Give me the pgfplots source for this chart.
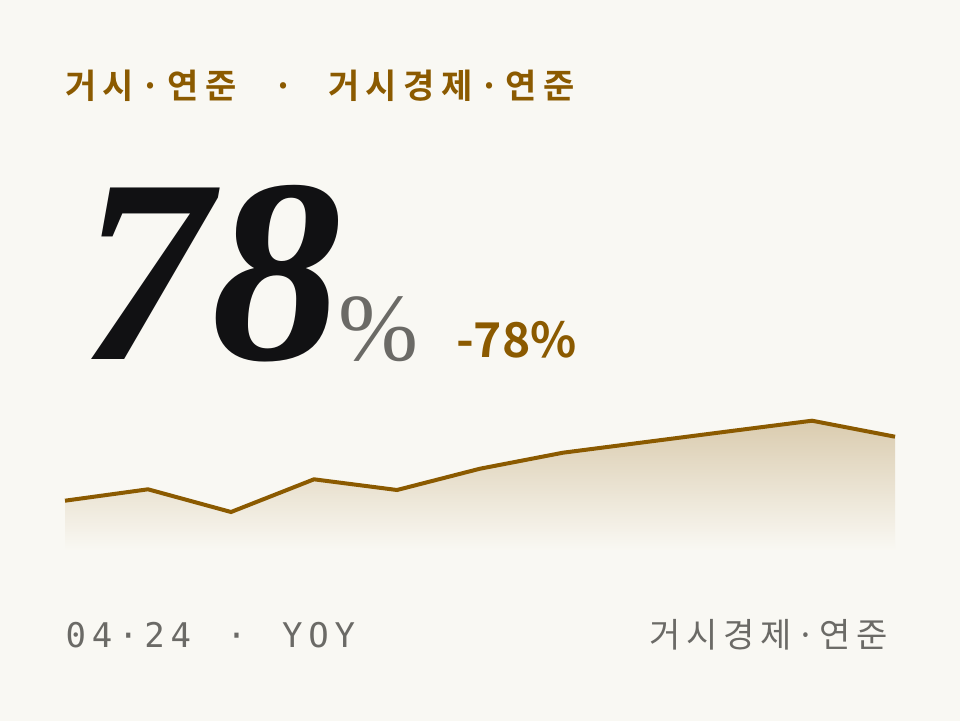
\documentclass[border=0pt]{standalone}
\usepackage{fontspec}
\usepackage{pgfplots}
\pgfplotsset{compat=1.18}
\setmainfont{Liberation Serif}
\newfontfamily\krb{Noto Sans CJK KR Bold}[LetterSpace=19]
\newfontfamily\krr{Noto Sans CJK KR}[LetterSpace=17]
\newfontfamily\krnum{Noto Sans CJK KR Bold}
\newfontfamily\mono{DejaVu Sans Mono}[LetterSpace=17]
\newfontfamily\headfont{Liberation Serif}
\definecolor{bg}{HTML}{F9F8F3}
\definecolor{brn}{HTML}{8B5A00}
\definecolor{gry}{HTML}{6B6A66}
\definecolor{ink}{HTML}{111113}
\colorlet{fillc}{brn!28!bg}
\newcommand\dt[1]{\hspace{#1}·\hspace{#1}}
\begin{document}
\begin{tikzpicture}[x=1bp,y=-1bp]
\fill[bg] (0,0) rectangle (960,721);
% title
\node[anchor=base west, inner sep=0, text=brn] at (65,99) {\krb\fontsize{34bp}{34bp}\selectfont 거시\dt{6.5bp}연준};
\node[anchor=base, inner sep=0, text=brn] at (283.5,99) {\krb\fontsize{34bp}{34bp}\selectfont ·};
\node[anchor=base west, inner sep=0, text=brn] at (328,99) {\krb\fontsize{34bp}{34bp}\selectfont 거시경제\dt{6.5bp}연준};
% headline value
\node[anchor=base west, inner sep=0, text=ink] at (80,359) {\headfont\bfseries\itshape\fontsize{262bp}{262bp}\selectfont 78};
\node[anchor=base west, inner sep=0, text=gry] at (338,360) {\headfont\fontsize{96bp}{96bp}\selectfont\%};
\node[anchor=base west, inner sep=0, text=brn] at (456,357) {\krnum\fontsize{48bp}{48bp}\selectfont -78\%};
% sparkline
\coordinate (sp) at (65,550);
\begin{axis}[at={(sp)}, anchor=south west, scale only axis,
  width=830bp, height=130bp, xmin=0, xmax=10, ymin=0, ymax=130,
  hide axis, clip=false]
\addplot[draw=none, top color=fillc, bottom color=bg] coordinates {
  (0,49.3) (1,60.7) (2,38) (3,70.7) (4,60) (5,81.3) (6,97.3) (7,108) (8,118.7) (9,129.3) (10,113.3)} \closedcycle;
\addplot[brn, line width=4bp] coordinates {
  (0,49.3) (1,60.7) (2,38) (3,70.7) (4,60) (5,81.3) (6,97.3) (7,108) (8,118.7) (9,129.3) (10,113.3)};
\end{axis}
% footer
\node[anchor=base west, inner sep=0, text=gry] at (65.5,647.5) {\mono\fontsize{34bp}{34bp}\selectfont 04·24};
\node[anchor=base, inner sep=0, text=gry] at (236.7,647.5) {\mono\fontsize{34bp}{34bp}\selectfont ·};
\node[anchor=base west, inner sep=0, text=gry] at (282,647.5) {\mono\fontsize{34bp}{34bp}\selectfont YOY};
\node[anchor=base west, inner sep=0, text=gry] at (649,647) {\krr\fontsize{34bp}{34bp}\selectfont 거시경제\dt{4.5bp}연준};
\end{tikzpicture}
\end{document}
